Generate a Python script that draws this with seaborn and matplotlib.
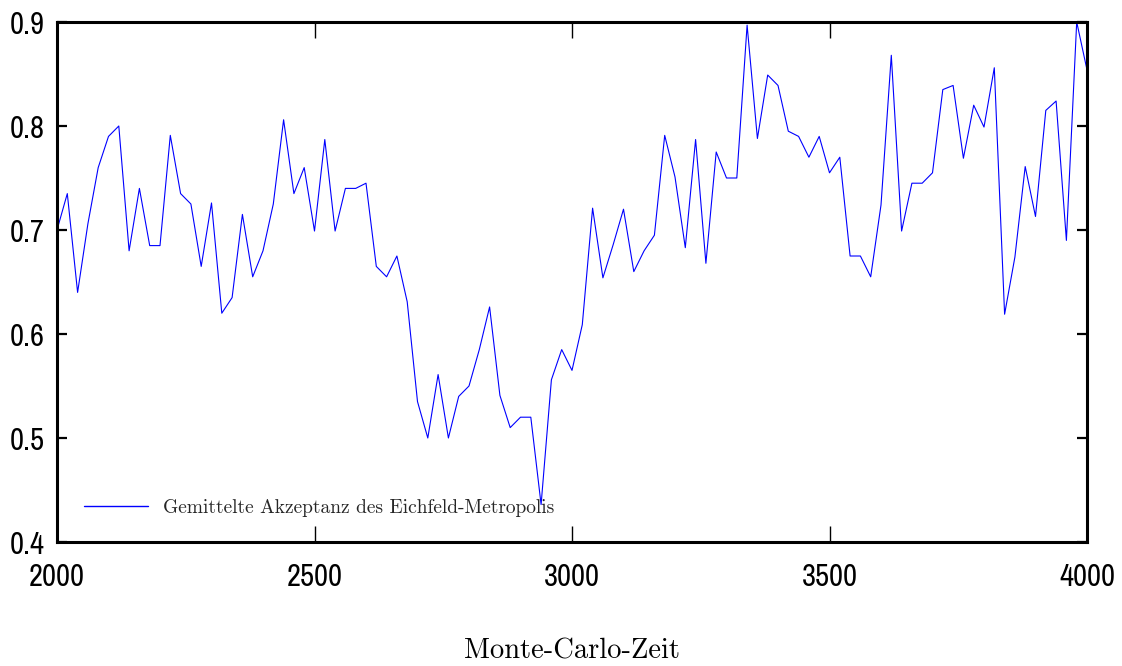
import numpy as np
import pandas as pd
import matplotlib
matplotlib.use("Agg")
import matplotlib.pyplot as plt
from matplotlib import font_manager
import seaborn as sns

# --- data ---
mc_time = list(range(2000, 4001, 20))
acceptance = [
    0.70, 0.735, 0.64, 0.706, 0.76, 0.79, 0.80, 0.68, 0.74, 0.685,
    0.685, 0.791, 0.735, 0.725, 0.665, 0.726, 0.62, 0.635, 0.715, 0.655,
    0.68, 0.725, 0.806, 0.735, 0.76, 0.699, 0.787, 0.699, 0.74, 0.74,
    0.745, 0.665, 0.655, 0.675, 0.631, 0.535, 0.50, 0.561, 0.50, 0.54,
    0.55, 0.585, 0.626, 0.541, 0.51, 0.52, 0.52, 0.436, 0.556, 0.585,
    0.565, 0.609, 0.721, 0.654, 0.686, 0.72, 0.66, 0.68, 0.695, 0.791,
    0.751, 0.683, 0.787, 0.668, 0.775, 0.75, 0.75, 0.897, 0.788, 0.849,
    0.839, 0.795, 0.79, 0.77, 0.79, 0.755, 0.77, 0.675, 0.675, 0.655,
    0.724, 0.868, 0.699, 0.745, 0.745, 0.755, 0.835, 0.839, 0.769, 0.82,
    0.799, 0.856, 0.619, 0.674, 0.761, 0.713, 0.815, 0.824, 0.69, 0.90,
    0.854,
]
x_ticks = [2000, 2500, 3000, 3500, 4000]
y_ticks = [0.4, 0.5, 0.6, 0.7, 0.8, 0.9]
series_label = "Gemittelte Akzeptanz des Eichfeld-Metropolis"
x_label = "Monte-Carlo-Zeit"

df = pd.DataFrame({"t": mc_time, "acc": acceptance})

sns.set_theme(style="white")
plt.rcParams["font.family"] = ["Liberation Sans", "DejaVu Sans"]

# look for a condensed / narrow sans font for the tick labels
tick_fp = None
for f in font_manager.fontManager.ttflist:
    low = (f.fname + " " + f.name).lower()
    if ("narrow" in low or "condensed" in low) and "bold" not in low and "italic" not in low \
            and "oblique" not in low and "serif" not in low and "mono" not in low:
        tick_fp = font_manager.FontProperties(fname=f.fname, size=22)
        if "narrow" in low:
            break
if tick_fp is None:
    tick_fp = font_manager.FontProperties(family="Liberation Sans", size=18)

fig = plt.figure(figsize=(11.22, 6.66), dpi=100)
ax = fig.add_axes([57 / 1122, 1 - 542 / 666, 1030 / 1122, 520 / 666])

sns.lineplot(data=df, x="t", y="acc", ax=ax, color="#0000ff", linewidth=0.8,
             label=series_label)

ax.set_xlim(2000, 4000)
ax.set_ylim(0.4, 0.9)
ax.set_xticks(x_ticks)
ax.set_xticklabels([str(v) for v in x_ticks], fontproperties=tick_fp)
ax.set_yticks(y_ticks)
ax.set_yticklabels([f"{v:.1f}" for v in y_ticks], fontproperties=tick_fp)

for sp in ax.spines.values():
    sp.set_visible(True)
    sp.set_color("black")
    sp.set_linewidth(2.2)

ax.tick_params(axis="x", direction="in", length=11.5, width=1.0, top=True, bottom=True,
               pad=15, colors="black")
ax.tick_params(axis="y", direction="in", length=7.5, width=1.6, left=True, right=True,
               pad=9, colors="black")

ax.set_xlabel(x_label, fontfamily="cmr10", fontsize=20.5, labelpad=34, color="black")
ax.set_ylabel("")

leg = ax.legend(loc="lower left", bbox_to_anchor=(0.026, 0.048), frameon=False,
                borderaxespad=0, borderpad=0, handlelength=3.3, handletextpad=0.75,
                prop={"family": "cmr10", "size": 14})
for line in leg.get_lines():
    line.set_linewidth(1.0)

fig.savefig("out.png", dpi=100)
